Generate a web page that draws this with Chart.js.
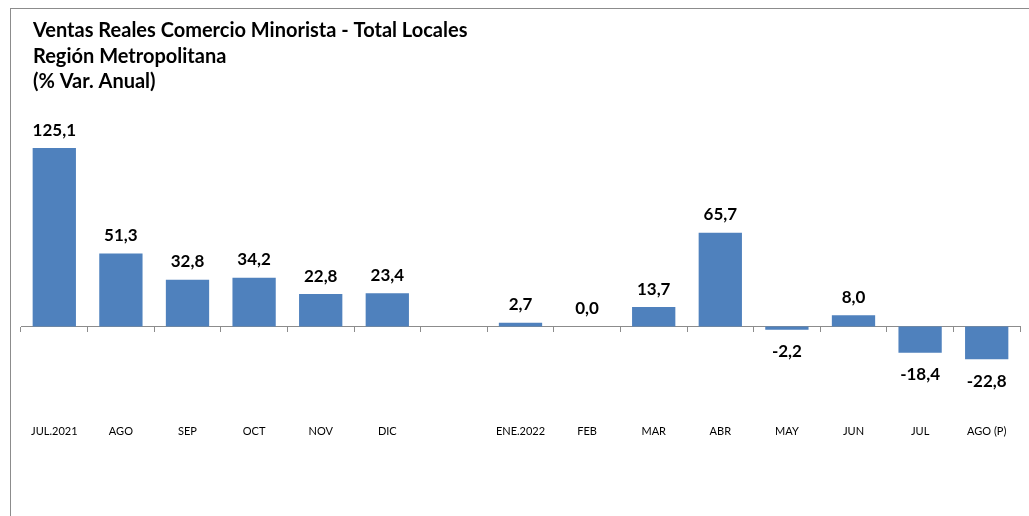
<!DOCTYPE html>
<html>
<head>
<meta charset="utf-8">
<script src="https://cdn.jsdelivr.net/npm/chart.js@4"></script>
<style>
    html, body { margin: 0; padding: 0; background: #fff; }
    #wrap { position: relative; width: 1029px; height: 516px; overflow: hidden; }
    #marco { position: absolute; left: 10px; top: 8px; width: 1100px; height: 600px; border: 1px solid #8c8c8c; }
    #grafico { position: absolute; left: 0; top: 0; }
</style>
</head>
<body>
<div id="wrap">
    <div id="marco"></div>
    <canvas id="grafico" width="1029" height="516"></canvas>
</div>
<script>
// Ventas Reales Comercio Minorista - RM (% var. anual)
const TITULO = [
    'Ventas Reales Comercio Minorista - Total Locales',
    'Región Metropolitana',
    '(% Var. Anual)'
];
const MESES = ['JUL.2021', 'AGO', 'SEP', 'OCT', 'NOV', 'DIC', '', 'ENE.2022', 'FEB', 'MAR', 'ABR', 'MAY', 'JUN', 'JUL', 'AGO (P)'];
const VARIACION = [125.1, 51.3, 32.8, 34.2, 22.8, 23.4, null, 2.7, 0.0, 13.7, 65.7, -2.2, 8.0, -18.4, -22.8];

const FUENTE = 'Lato, "Open Sans", sans-serif';
const COLOR_BARRA = '#4f81bd';
const COLOR_EJE = '#8c8c8c';

const fmt = v => v.toFixed(1).replace('.', ',');

// titulo dibujado a mano, alineado con el texto del original
const pluginTitulo = {
    id: 'titulo',
    afterDraw(chart) {
        const ctx = chart.ctx;
        ctx.save();
        ctx.font = 'bold 20px ' + FUENTE;
        ctx.fillStyle = '#000';
        ctx.textAlign = 'left';
        ctx.textBaseline = 'middle';
        TITULO.forEach((t, i) => ctx.fillText(t, 33, 31 + i * 25.5));
        ctx.restore();
    }
};

// etiquetas de valor sobre/bajo cada barra
const pluginEtiquetas = {
    id: 'etiquetas',
    afterDatasetsDraw(chart) {
        const ctx = chart.ctx;
        const meta = chart.getDatasetMeta(0);
        ctx.save();
        ctx.font = 'bold 17px ' + FUENTE;
        ctx.fillStyle = '#000';
        ctx.textAlign = 'center';
        ctx.textBaseline = 'middle';
        meta.data.forEach((bar, i) => {
            const v = VARIACION[i];
            if (v === null || v === undefined) return;
            const y = v >= 0 ? bar.y - 18 : bar.y + 22;
            ctx.fillText(fmt(v), bar.x, y);
        });
        ctx.restore();
    }
};

new Chart(document.getElementById('grafico'), {
    type: 'bar',
    data: {
        labels: MESES,
        datasets: [{
            data: VARIACION,
            backgroundColor: COLOR_BARRA,
            borderWidth: 0,
            barPercentage: 0.65,
            categoryPercentage: 1,
            xAxisID: 'x'
        }]
    },
    options: {
        responsive: false,
        animation: false,
        layout: { padding: { left: 21, right: 9, top: 112, bottom: 73 } },
        plugins: {
            legend: { display: false },
            tooltip: { enabled: false }
        },
        scales: {
            x: {
                offset: true,
                grid: { display: false },
                border: { display: false },
                ticks: {
                    color: '#000',
                    font: { family: FUENTE, size: 11 },
                    padding: 5,
                    maxRotation: 0,
                    autoSkip: false
                }
            },
            x2: {
                type: 'category',
                labels: MESES,
                position: { y: 0 },
                offset: true,
                afterFit: s => { s.height = 0; },
                grid: {
                    offset: true,
                    drawOnChartArea: false,
                    tickLength: 5,
                    color: COLOR_EJE
                },
                border: { color: COLOR_EJE, width: 1 },
                ticks: { display: false }
            },
            y: {
                display: false,
                min: -59.7,
                max: 150.4
            }
        }
    },
    plugins: [pluginTitulo, pluginEtiquetas]
});
</script>
</body>
</html>
